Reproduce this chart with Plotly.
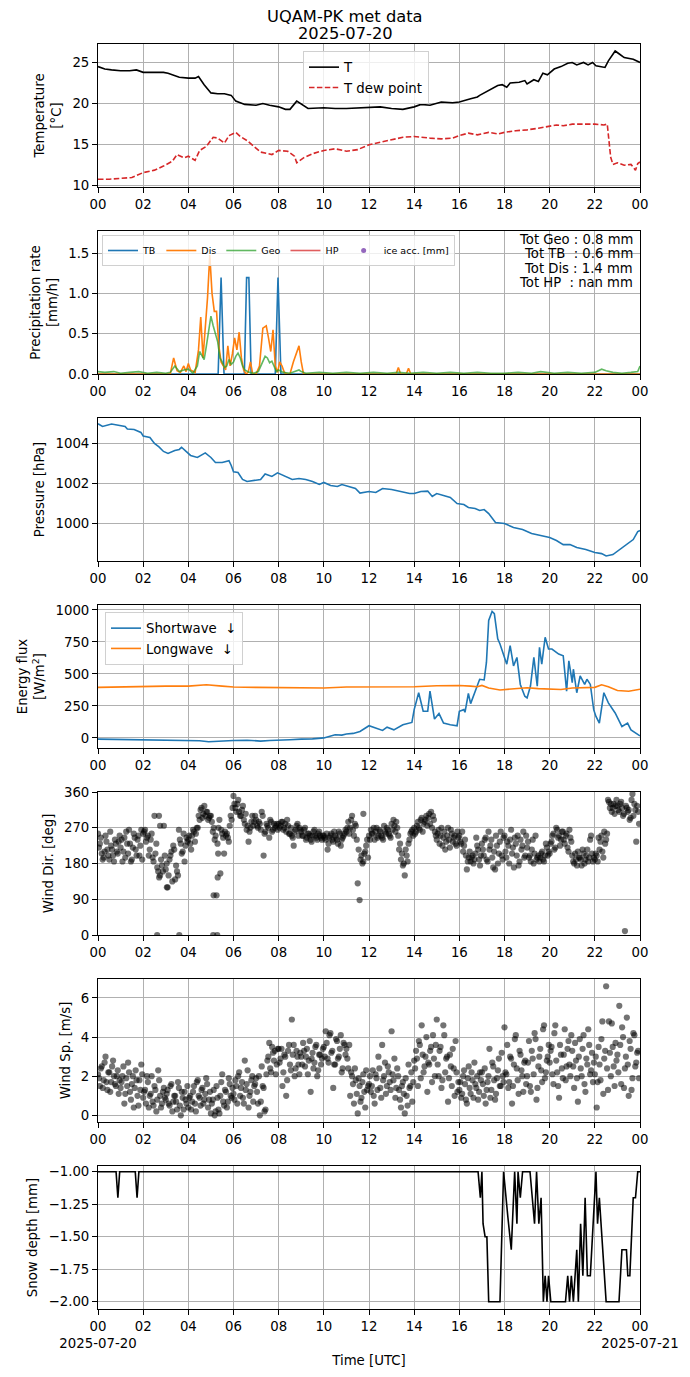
import numpy as np
import pandas as pd
import plotly.graph_objects as go

# ---------------- data (hours after 2025-07-20 00:00 UTC) ----------------
T_h = [0, 0.3, 0.6, 1.0, 1.4, 1.7, 2.0, 2.5, 2.9, 3.1, 3.3, 3.6, 4.0, 4.3, 4.45, 4.7, 5.0, 5.3, 5.6, 5.9,
       6.1, 6.5, 7.0, 7.3, 7.6, 8.0, 8.3, 8.5, 8.8, 9.1, 9.3, 10.0, 10.5, 11.0, 12.0, 12.5, 13.0, 13.5, 14.0, 14.3,
       14.7, 15.2, 15.7, 16.0, 16.5, 16.8, 16.9, 17.3, 17.7, 17.9, 18.1, 18.25, 18.65, 18.9, 19.0, 19.3, 19.5, 19.7, 19.9, 20.2,
       20.5, 20.8, 21.0, 21.2, 21.5, 21.7, 21.9, 22.05, 22.25, 22.45, 22.6, 22.85, 22.9, 23.1, 23.3, 23.7, 24.0]
T_v = [24.5, 24.2, 24.1, 24.0, 24.0, 24.1, 23.8, 23.8, 23.8, 23.7, 23.5, 23.2, 23.1, 23.1, 23.3, 22.3, 21.3, 21.2, 21.2, 21.0,
       20.3, 19.9, 19.8, 20.0, 19.8, 19.6, 19.3, 19.3, 20.3, 19.8, 19.4, 19.5, 19.4, 19.4, 19.5, 19.6, 19.4, 19.3, 19.6, 19.9,
       19.8, 20.2, 20.1, 20.2, 20.6, 20.8, 21.0, 21.6, 22.2, 22.3, 22.0, 22.5, 22.6, 22.8, 22.4, 22.9, 22.7, 23.7, 23.5, 24.2,
       24.5, 24.9, 25.0, 24.7, 25.0, 24.7, 25.0, 24.6, 24.5, 24.4, 25.2, 26.3, 26.4, 26.0, 25.6, 25.4, 25.0]

Td_h = [0, 0.5, 1.0, 1.5, 2.0, 2.5, 2.9, 3.3, 3.5, 3.8, 4.0, 4.3, 4.5, 4.8, 5.1, 5.3, 5.6, 5.8, 6.1, 6.3,
        6.6, 7.0, 7.2, 7.7, 8.0, 8.4, 8.7, 8.8, 9.1, 9.5, 10.0, 10.5, 11.0, 11.5, 12.0, 12.5, 13.0, 13.5, 14.0, 14.3,
        14.7, 15.2, 15.7, 16.0, 16.4, 16.8, 17.3, 17.7, 18.0, 18.5, 19.0, 19.5, 20.0, 20.3, 20.6, 21.0, 21.5, 22.0, 22.4, 22.55,
        22.7, 22.8, 23.0, 23.3, 23.6, 23.8, 23.9, 24.0]
Td_v = [10.8, 10.8, 10.9, 11.0, 11.6, 11.9, 12.4, 13.0, 13.8, 13.4, 13.6, 13.1, 14.3, 14.8, 15.9, 15.8, 15.2, 16.1, 16.5, 16.0,
        15.5, 14.6, 14.1, 13.8, 14.3, 14.2, 13.6, 12.8, 13.4, 13.9, 14.3, 14.5, 14.2, 14.4, 15.0, 15.3, 15.6, 15.9, 16.0, 15.9,
        15.8, 15.7, 15.8, 16.1, 16.4, 16.2, 16.5, 16.3, 16.5, 16.7, 16.8, 17.0, 17.3, 17.4, 17.3, 17.5, 17.5, 17.5, 17.4, 17.5,
        13.5, 12.6, 12.8, 12.5, 12.6, 11.9, 12.7, 12.9]

tb_h = [0, 5.32, 5.45, 5.58, 6.48, 6.58, 6.68, 6.78, 7.85, 7.97, 8.1, 24]
tb_v = [0, 0, 1.2, 0, 0, 1.2, 1.2, 0, 0, 1.2, 0, 0]

dis_h = [0, 3.2, 3.35, 3.5, 3.65, 3.8, 3.9, 4.0, 4.1, 4.3, 4.45, 4.55, 4.65, 4.75, 4.85, 4.95, 5.05, 5.15, 5.25, 5.35,
         5.45, 5.55, 5.65, 5.75, 5.85, 5.95, 6.05, 6.15, 6.25, 6.35, 6.45, 6.55, 6.65, 6.75, 6.85, 7.0, 7.15, 7.3, 7.45, 7.55,
         7.65, 7.75, 7.85, 7.95, 8.05, 8.15, 8.25, 8.35, 8.5, 8.65, 8.75, 8.9, 9.0, 9.1, 13.2, 13.3, 13.4, 13.65, 13.75, 13.85, 24]
dis_v = [0, 0, 0.2, 0.04, 0.02, 0.1, 0.03, 0.13, 0.05, 0.02, 0.3, 0.71, 0.2, 0.55, 0.95, 1.48, 1.0, 0.78, 0.78, 0.35,
         0.15, 0.1, 0.05, 0.35, 0.1, 0.25, 0.45, 0.3, 0.52, 0.2, 0.05, 0.0, 0.02, 0.15, 0.0, 0.0, 0.1, 0.57, 0.6, 0.45,
         0.28, 0.55, 0.1, 0.02, 0.15, 0.1, 0.02, 0.0, 0.0, 0.15, 0.22, 0.35, 0.15, 0.0, 0.0, 0.08, 0.0, 0.0, 0.07, 0.0, 0.0]

geo_h = [0, 0.3, 0.7, 1.0, 1.4, 1.8, 2.2, 2.6, 3.0, 3.2, 3.4, 3.6, 3.8, 4.0, 4.2, 4.4, 4.5, 4.6, 4.7, 4.8,
         4.9, 5.0, 5.1, 5.2, 5.3, 5.4, 5.5, 5.6, 5.7, 5.8, 5.9, 6.0, 6.1, 6.2, 6.3, 6.4, 6.5, 6.7, 6.9, 7.1,
         7.3, 7.4, 7.5, 7.6, 7.7, 7.8, 7.9, 8.0, 8.2, 8.5, 8.8, 8.9, 9.0, 9.2, 9.8, 10.4, 11.0, 11.6, 12.2, 12.8,
         13.3, 13.8, 14.4, 15.0, 15.6, 16.2, 16.8, 17.4, 18.0, 18.6, 19.2, 19.6, 20.2, 20.8, 21.4, 22.0, 22.3, 22.5, 22.8, 23.2,
         23.6, 23.9, 24.0]
geo_v = [0.03, 0.02, 0.03, 0.01, 0.02, 0.03, 0.01, 0.02, 0.01, 0.02, 0.1, 0.03, 0.05, 0.06, 0.01, 0.1, 0.28, 0.22, 0.18, 0.35,
         0.55, 0.72, 0.6, 0.5, 0.4, 0.2, 0.15, 0.08, 0.1, 0.18, 0.12, 0.15, 0.22, 0.26, 0.2, 0.1, 0.05, 0.02, 0.01, 0.03,
         0.15, 0.22, 0.2, 0.14, 0.16, 0.1, 0.03, 0.05, 0.02, 0.01, 0.04, 0.05, 0.03, 0.01, 0.02, 0.01, 0.02, 0.01, 0.02, 0.01,
         0.02, 0.01, 0.02, 0.01, 0.02, 0.01, 0.02, 0.01, 0.01, 0.02, 0.01, 0.03, 0.01, 0.02, 0.01, 0.02, 0.06, 0.04, 0.02, 0.01,
         0.02, 0.03, 0.1]

precip_totals = ["Tot Geo : 0.8 mm", "Tot TB\u00a0\u00a0: 0.6 mm", "Tot Dis : 1.4 mm", "Tot HP\u00a0\u00a0: nan mm"]

P_h = [0, 0.2, 0.6, 1.0, 1.2, 1.3, 1.6, 1.9, 2.0, 2.3, 2.5, 2.7, 2.9, 3.1, 3.4, 3.6, 3.7, 3.9, 4.1, 4.4,
       4.6, 4.75, 5.0, 5.2, 5.5, 5.8, 5.9, 6.0, 6.2, 6.4, 6.6, 7.0, 7.2, 7.4, 7.7, 7.95, 8.3, 8.6, 8.9, 9.2,
       9.5, 9.8, 10.0, 10.3, 10.6, 10.8, 11.1, 11.4, 11.6, 12.0, 12.3, 12.6, 13.0, 13.4, 13.8, 14.0, 14.3, 14.6, 14.8, 15.0,
       15.3, 15.6, 15.9, 16.2, 16.4, 16.7, 16.9, 17.1, 17.3, 17.6, 18.0, 18.4, 18.8, 19.2, 19.6, 20.0, 20.3, 20.6, 20.9, 21.2,
       21.6, 22.0, 22.3, 22.5, 22.8, 23.1, 23.4, 23.7, 23.9, 24.0]
P_v = [1004.98, 1004.85, 1004.97, 1004.9, 1004.85, 1004.72, 1004.7, 1004.55, 1004.37, 1004.3,
       1004.0, 1003.83, 1003.6, 1003.5, 1003.65, 1003.7, 1003.81, 1003.6, 1003.4, 1003.3,
       1003.45, 1003.53, 1003.3, 1003.05, 1003.05, 1003.14, 1002.9, 1002.58, 1002.55, 1002.2,
       1002.1, 1002.15, 1002.2, 1002.48, 1002.35, 1002.53, 1002.35, 1002.2, 1002.25, 1002.2,
       1002.1, 1001.95, 1002.05, 1001.9, 1001.85, 1001.95, 1001.85, 1001.75, 1001.52, 1001.6,
       1001.55, 1001.75, 1001.7, 1001.6, 1001.5, 1001.5, 1001.6, 1001.62, 1001.35, 1001.5,
       1001.4, 1001.3, 1001.0, 1000.95, 1000.8, 1000.75, 1000.65, 1000.7, 1000.5, 1000.05,
       1000.0, 999.8, 999.7, 999.5, 999.4, 999.3, 999.15, 998.95, 998.95, 998.8,
       998.7, 998.55, 998.5, 998.38, 998.45, 998.7, 998.95, 999.2, 999.6, 999.65]

SW_h = [0, 1, 2, 3, 4, 4.5, 4.9, 5.3, 6.0, 6.6, 7.2, 7.6, 8.0, 8.5, 9.0, 9.5, 10.0, 10.3, 10.5, 10.8,
        11.0, 11.3, 11.6, 12.0, 12.3, 12.6, 12.8, 13.1, 13.5, 13.9, 14.0, 14.2, 14.4, 14.6, 14.7, 14.9, 15.1, 15.3, 15.6, 15.9,
        16.0, 16.2, 16.25, 16.4, 16.5, 16.7, 16.9, 17.1, 17.2, 17.3, 17.45, 17.55, 17.7, 17.8, 18.0, 18.1, 18.25, 18.4, 18.55, 18.7,
        18.9, 19.0, 19.15, 19.3, 19.45, 19.55, 19.65, 19.8, 19.95, 20.1, 20.4, 20.6, 20.75, 20.85, 21.0, 21.05, 21.2, 21.35, 21.55, 21.65,
        21.8, 21.95, 22.05, 22.2, 22.4, 22.6, 22.9, 23.2, 23.45, 23.6, 24.0]
SW_v = [-10, -13, -15, -16, -18, -22, -30, -25, -20, -18, -25, -20, -15, -14, -10, -8, 0, 15, 25, 22,
        30, 35, 50, 95, 75, 58, 84, 63, 103, 121, 221, 353, 208, 208, 366, 147, 190, 116, 103, 95,
        208, 221, 200, 347, 268, 366, 458, 453, 590, 918, 989, 971, 774, 734, 616, 576, 721, 563, 629, 418,
        326, 313, 405, 629, 405, 708, 576, 787, 695, 695, 655, 642, 366, 603, 432, 537, 353, 484, 418, 458,
        418, 221, 168, 116, 353, 274, 195, 89, 116, 63, 16]

LW_h = [0, 1, 2, 3, 4, 4.8, 5.5, 6, 7, 8, 9, 10, 11, 12, 13, 14, 15, 16, 16.5, 16.8,
        17.0, 17.3, 17.8, 18.5, 19.0, 19.5, 20, 20.5, 21, 21.5, 22, 22.3, 22.6, 23, 23.5, 24]
LW_v = [395, 400, 403, 405, 405, 415, 405, 398, 395, 392, 392, 390, 398, 398, 400, 400, 408, 410, 405, 400,
        410, 390, 375, 385, 392, 385, 380, 378, 390, 392, 395, 415, 400, 370, 365, 380]

# wind: set A sampled every 5 min from 00:00, set B every 5 min from 00:02:30
wind_dir = [
    255, 230, 205, 195, 250, 215, 190, 225, 200, 240, 210, 235,
    220, 185, 245, 260, 205, 230, 190, 255, 215, 240, 200, 265,
    255, 265, 245, 200, 240, 195, 300, 230, 160, 150, 175, 275,
    165, 120, 190, 210, 225, 140, 160, 265, 230, 210, 185, 245,
    240, 230, 250, 260, 255, 270, 290, 320, 305, 300, 310, 295,
    300, 260, 240, 100, 270, 155, 255, 205, 250, 245, 275, 290,
    350, 320, 330, 310, 300, 325, 280, 265, 235, 270, 300, 285,
    290, 270, 280, 310, 200, 260, 275, 245, 285, 265, 270, 280,
    280, 275, 285, 270, 260, 275, 255, 250, 225, 265, 280, 270,
    260, 250, 270, 245, 255, 240, 250, 265, 245, 255, 250, 240,
    250, 240, 215, 245, 255, 235, 250, 240, 260, 225, 245, 255,
    260, 285, 270, 300, 250, 275, 130, 88, 200, 185, 210, 240,
    250, 265, 255, 240, 270, 250, 260, 245, 275, 255, 265, 250,
    280, 290, 260, 270, 215, 190, 175, 150, 200, 230, 255, 265,
    270, 260, 285, 265, 295, 280, 290, 275, 305, 310, 300, 260,
    240, 265, 250, 225, 260, 235, 270, 220, 255, 245, 230, 260,
    250, 230, 210, 240, 165, 195, 185, 200, 190, 245, 215, 175,
    230, 200, 245, 185, 215, 240, 170, 165, 225, 205, 260, 190,
    250, 195, 225, 240, 205, 170, 230, 250, 185, 215, 260, 200,
    220, 195, 185, 240, 205, 190, 200, 195, 210, 185, 230, 200,
    205, 235, 255, 220, 265, 250, 240, 260, 230, 255, 210, 245,
    200, 180, 190, 210, 195, 175, 205, 190, 215, 195, 250, 185,
    190, 200, 245, 235, 210, 260, 240, 340, 320, 310, 330, 325,
    325, 310, 335, 300, 10, 320, 315, 295, 355, 330, 235, 310]
wind_dir_b = [
    220, 245, 190, 210, 235, 200, 260, 215, 185, 230, 205, 250,
    240, 210, 195, 230, 265, 185, 220, 245, 200, 250, 225, 190,
    260, 235, 250, 215, 255, 185, 205, 170, 145, 190, 160, 200,
    180, 150, 200, 135, 215, 175, 150, 240, 205, 255, 225, 235,
    250, 215, 265, 235, 270, 300, 315, 295, 325, 310, 290, 300,
    285, 270, 250, 230, 290, 265, 245, 260, 255, 235, 300, 320,
    330, 310, 340, 300, 315, 290, 305, 275, 260, 285, 275, 300,
    275, 285, 265, 300, 255, 280, 270, 290, 260, 280, 275, 265,
    270, 285, 265, 280, 290, 255, 270, 245, 260, 275, 250, 265,
    250, 265, 240, 255, 250, 235, 260, 250, 240, 260, 245, 250,
    245, 255, 230, 250, 240, 260, 245, 230, 255, 240, 250, 265,
    270, 255, 290, 265, 280, 240, 215, 190, 180, 205, 225, 195,
    240, 255, 270, 260, 245, 265, 250, 240, 260, 270, 255, 245,
    265, 275, 285, 250, 230, 205, 180, 215, 185, 240, 260, 250,
    255, 275, 270, 290, 260, 285, 300, 295, 280, 270, 290, 250,
    255, 230, 270, 245, 215, 250, 240, 265, 235, 250, 225, 245,
    235, 260, 225, 200, 185, 210, 195, 180, 205, 225, 190, 200,
    215, 240, 190, 260, 225, 195, 210, 250, 180, 235, 200, 245,
    210, 235, 180, 265, 220, 245, 200, 175, 240, 225, 195, 250,
    235, 200, 215, 180, 250, 195, 185, 205, 190, 200, 220, 210,
    230, 250, 215, 270, 245, 225, 260, 240, 250, 220, 265, 235,
    185, 205, 175, 195, 190, 215, 180, 200, 185, 240, 205, 195,
    205, 185, 215, 250, 195, 230, 255, 335, 330, 320, 305, 340,
    315, 330, 320, 305, 325, 310, 290, 340, 300, 315, 325, 280]
wd_extra_h = [2.62, 3.6, 5.1, 5.28, 5.3, 5.32, 5.12, 11.75, 2.7, 2.75, 3.05]
wd_extra_v = [0, 0, 0, 0, 145, 205, 100, 305, 300, 275, 120]

wind_sp = [
    2.1, 1.5, 2.5, 1.8, 3.0, 1.3, 2.2, 1.7, 2.8, 1.6, 2.0, 1.1,
    1.4, 2.0, 0.6, 1.9, 2.7, 1.2, 1.6, 0.4, 2.3, 1.0, 1.8, 2.6,
    0.9, 1.3, 2.0, 0.4, 1.1, 0.7, 1.5, 0.2, 2.3, 1.0, 0.6, 1.4,
    0.8, 1.3, 0.5, 1.6, 0.7, 1.0, 0.3, 1.4, 0.0, 0.9, 1.2, 0.6,
    0.4, 1.0, 0.7, 1.5, 0.2, 1.8, 0.9, 1.3, 0.6, 1.1, 1.6, 0.8,
    0.1, 0.8, 0.0, 1.5, 0.3, 1.0, 2.1, 0.5, 1.2, 0.7, 1.6, 0.9,
    1.1, 1.8, 0.6, 2.2, 1.4, 0.9, 2.8, 1.6, 0.4, 1.2, 2.0, 1.5,
    1.9, 0.6, 0.0, 2.5, 1.4, 0.3, 2.8, 3.7, 2.2, 3.2, 3.3, 2.6,
    3.4, 2.9, 1.5, 3.1, 1.0, 3.3, 2.6, 4.9, 3.6, 2.4, 3.0, 2.1,
    3.0, 3.7, 2.5, 3.4, 2.8, 1.2, 3.2, 2.7, 3.6, 2.3, 3.1, 2.9,
    3.5, 4.3, 2.9, 4.1, 3.2, 1.4, 2.6, 3.8, 3.0, 4.1, 2.4, 3.6,
    3.4, 2.4, 1.0, 2.0, 0.6, 1.8, 0.1, 1.5, 0.9, 2.1, 0.4, 1.3,
    1.6, 1.2, 2.3, 0.6, 1.9, 3.0, 1.4, 3.6, 2.0, 1.1, 2.5, 1.7,
    4.3, 1.8, 0.9, 2.4, 1.3, 0.4, 1.7, 0.1, 1.0, 2.6, 1.5, 0.7,
    2.8, 3.3, 1.5, 3.6, 4.6, 2.2, 3.0, 1.2, 2.6, 3.5, 4.1, 2.0,
    4.9, 2.0, 3.5, 1.8, 4.1, 2.9, 0.7, 3.1, 1.5, 2.4, 3.8, 1.2,
    1.3, 0.9, 2.0, 1.6, 0.6, 2.5, 1.1, 1.8, 2.7, 1.4, 0.8, 2.2,
    2.2, 1.0, 0.6, 1.7, 3.4, 1.3, 2.5, 0.8, 1.9, 2.9, 1.5, 2.0,
    4.5, 2.1, 1.4, 3.0, 0.6, 2.6, 4.1, 1.8, 3.3, 2.3, 1.2, 2.8,
    2.0, 3.8, 1.2, 2.9, 4.2, 0.8, 2.5, 3.4, 1.7, 4.6, 2.2, 3.0,
    2.7, 3.5, 1.6, 4.6, 2.2, 0.9, 3.1, 1.9, 4.4, 2.5, 3.8, 2.0,
    3.3, 1.4, 2.8, 0.7, 3.9, 2.0, 4.1, 1.2, 2.6, 3.6, 2.3, 1.7,
    2.1, 0.4, 3.5, 1.8, 4.8, 2.9, 6.6, 1.3, 3.2, 4.7, 2.5, 3.7,
    3.1, 5.6, 1.6, 4.0, 2.4, 5.0, 1.0, 3.4, 1.9, 4.1, 2.7, 3.3]
wind_sp_b = [
    1.9, 2.4, 1.4, 2.7, 1.7, 2.2, 1.2, 2.5, 2.0, 1.5, 2.3, 1.8,
    1.7, 2.5, 1.1, 1.5, 2.2, 0.8, 2.0, 1.4, 1.8, 0.5, 1.3, 2.1,
    1.2, 0.6, 1.7, 1.0, 2.0, 0.5, 1.3, 0.8, 1.8, 0.4, 1.2, 0.9,
    1.1, 0.6, 1.5, 0.2, 1.0, 0.7, 1.7, 0.5, 1.2, 0.3, 0.8, 1.5,
    0.9, 0.3, 1.2, 0.6, 1.7, 1.0, 0.5, 1.4, 0.8, 1.9, 0.4, 1.2,
    0.6, 1.3, 0.2, 0.9, 0.1, 1.7, 0.7, 1.3, 0.4, 1.9, 1.0, 1.4,
    0.8, 1.5, 2.0, 1.0, 1.7, 0.6, 1.3, 2.3, 1.0, 1.8, 0.7, 1.6,
    1.2, 2.0, 0.7, 1.5, 0.2, 2.1, 3.0, 2.4, 3.5, 2.8, 2.1, 3.4,
    2.7, 3.4, 2.2, 3.0, 1.8, 3.6, 2.3, 3.1, 2.0, 3.3, 2.6, 3.2,
    2.6, 3.3, 3.0, 2.1, 3.8, 2.9, 2.4, 3.5, 2.0, 3.1, 2.6, 3.4,
    3.0, 3.7, 2.7, 4.2, 3.3, 2.6, 3.9, 2.9, 3.4, 2.2, 3.7, 3.1,
    2.9, 3.6, 2.2, 1.6, 2.4, 1.1, 1.9, 0.7, 1.7, 1.2, 2.3, 1.5,
    2.0, 1.5, 1.0, 2.1, 1.3, 2.4, 0.9, 1.8, 2.7, 1.5, 2.2, 1.3,
    2.1, 2.9, 1.4, 2.0, 0.8, 1.5, 1.1, 1.9, 0.5, 1.4, 2.2, 1.7,
    2.4, 2.9, 3.8, 1.9, 3.1, 2.5, 4.0, 2.7, 3.3, 1.7, 2.9, 3.6,
    2.6, 3.3, 1.4, 4.6, 2.2, 3.0, 1.9, 2.5, 3.4, 1.0, 2.2, 1.7,
    1.7, 1.1, 2.3, 0.8, 1.9, 1.4, 2.2, 0.9, 1.6, 2.0, 1.2, 1.8,
    1.6, 2.4, 1.3, 2.0, 0.9, 2.7, 1.8, 1.1, 2.3, 1.5, 3.2, 1.7,
    2.2, 3.6, 1.7, 2.9, 1.5, 3.9, 2.4, 1.1, 3.1, 2.0, 2.7, 1.6,
    2.7, 1.5, 3.3, 2.1, 3.9, 1.4, 3.0, 2.3, 4.4, 1.9, 2.8, 3.6,
    3.3, 2.1, 4.2, 2.8, 1.5, 3.6, 2.4, 3.1, 1.8, 3.4, 2.6, 4.1,
    2.5, 3.7, 1.9, 3.0, 2.4, 3.4, 1.6, 2.9, 4.4, 2.1, 3.2, 2.7,
    3.0, 1.7, 2.6, 3.9, 1.1, 3.3, 2.4, 4.8, 2.0, 3.5, 1.5, 2.8,
    2.2, 3.6, 4.5, 1.4, 3.0, 2.6, 3.8, 1.3, 4.2, 2.5, 3.2, 1.9]

S_h = [0, 0.8, 0.88, 0.96, 1.65, 1.73, 1.81, 16.83, 16.93, 17.0, 17.05, 17.14, 17.22, 17.3, 17.8, 17.96, 18.15, 18.3, 18.45, 18.55,
       18.6, 18.7, 18.8, 19.13, 19.23, 19.33, 19.42, 19.52, 19.62, 19.72, 19.8, 19.88, 19.95, 20.05, 20.7, 20.8, 20.88, 20.96, 21.05, 21.2,
       21.27, 21.37, 21.47, 21.57, 21.67, 21.8, 22.05, 22.12, 22.2, 22.35, 22.5, 23.07, 23.2, 23.4, 23.46, 23.55, 23.7, 23.8, 23.9, 24.0]
S_v = [-1.0, -1.0, -1.2, -1.0, -1.0, -1.2, -1.0, -1.0, -1.2, -1.0, -1.4, -1.5, -1.5, -2.0, -2.0, -1.0, -1.35, -1.6, -1.0, -1.4,
       -1.0, -1.2, -1.0, -1.0, -1.2, -1.4, -1.0, -1.4, -1.2, -2.0, -1.8, -2.0, -1.8, -2.0, -2.0, -1.8, -2.0, -1.8, -2.0, -1.6,
       -2.0, -1.4, -1.8, -1.2, -1.8, -1.8, -1.0, -1.4, -1.2, -1.6, -2.0, -2.0, -1.6, -1.6, -1.8, -1.8, -1.2, -1.2, -1.0, -1.0]

# ---------------- helpers ----------------
base = pd.Timestamp("2025-07-20 00:00")
end = base + pd.Timedelta(hours=24)


def tt(hours):
    return [base + pd.Timedelta(hours=float(h)) for h in hours]


wind_t = list(pd.date_range(base, periods=len(wind_dir), freq="5min"))
wind_t_b = list(pd.date_range(base + pd.Timedelta(seconds=150), periods=len(wind_dir_b), freq="5min"))

OFF = 8                      # page body margin of the browser
W, H = 690 - OFF, 1377 - OFF
XL, XR = 98, 640             # axes edges in reference pixels
tops = [44, 231, 418, 605, 792, 979, 1166]
PH = 143
FONT = "DejaVu Sans"
FS = 13.3


def px_x(px):
    return (px - XL) / (XR - XL)


def px_y(py):
    return 1 - (py - OFF) / H


fig = go.Figure()

# Panel 1: temperature
fig.add_trace(go.Scatter(x=tt(T_h), y=T_v, mode="lines", name="T",
                         line=dict(color="black", width=1.6), xaxis="x", yaxis="y", legend="legend"))
fig.add_trace(go.Scatter(x=tt(Td_h), y=Td_v, mode="lines", name="T dew point",
                         line=dict(color="#d62728", width=1.6, dash="5.5px,2.4px"),
                         xaxis="x", yaxis="y", legend="legend"))

# Panel 2: precipitation
fig.add_trace(go.Scatter(x=tt(tb_h), y=tb_v, mode="lines", name="TB",
                         line=dict(color="#1f77b4", width=1.6), xaxis="x2", yaxis="y2", legend="legend2"))
fig.add_trace(go.Scatter(x=tt(dis_h), y=dis_v, mode="lines", name="Dis",
                         line=dict(color="#ff7f0e", width=1.6), xaxis="x2", yaxis="y2", legend="legend2"))
fig.add_trace(go.Scatter(x=tt(geo_h), y=geo_v, mode="lines", name="Geo",
                         line=dict(color="rgba(44,160,44,0.75)", width=1.6), xaxis="x2", yaxis="y2", legend="legend2"))
fig.add_trace(go.Scatter(x=[base], y=[None], mode="lines", name="HP",
                         line=dict(color="rgba(214,39,40,0.75)", width=1.6), xaxis="x2", yaxis="y2", legend="legend2"))
fig.add_trace(go.Scatter(x=[base], y=[None], mode="markers", name="ice acc. [mm]",
                         marker=dict(color="#9467bd", size=5), xaxis="x2", yaxis="y2", legend="legend2"))

# Panel 3: pressure
fig.add_trace(go.Scatter(x=tt(P_h), y=P_v, mode="lines", showlegend=False,
                         line=dict(color="#1f77b4", width=1.6), xaxis="x3", yaxis="y3"))

# Panel 4: radiation
fig.add_trace(go.Scatter(x=tt(SW_h), y=SW_v, mode="lines", name="Shortwave \u00a0\u2193",
                         line=dict(color="#1f77b4", width=1.6), xaxis="x4", yaxis="y4", legend="legend3"))
fig.add_trace(go.Scatter(x=tt(LW_h), y=LW_v, mode="lines", name="Longwave \u00a0\u2193",
                         line=dict(color="#ff7f0e", width=1.6), xaxis="x4", yaxis="y4", legend="legend3"))

# Panel 5: wind direction
dot = dict(color="black", size=6.2, opacity=0.55, line=dict(width=0))
fig.add_trace(go.Scatter(x=wind_t + wind_t_b, y=wind_dir + wind_dir_b, mode="markers", marker=dot,
                         showlegend=False, xaxis="x5", yaxis="y5"))
fig.add_trace(go.Scatter(x=tt(wd_extra_h), y=wd_extra_v, mode="markers", marker=dot, showlegend=False,
                         xaxis="x5", yaxis="y5"))

# Panel 6: wind speed
fig.add_trace(go.Scatter(x=wind_t + wind_t_b, y=wind_sp + wind_sp_b, mode="markers", marker=dot,
                         showlegend=False, xaxis="x6", yaxis="y6"))

# Panel 7: snow depth
fig.add_trace(go.Scatter(x=tt(S_h), y=S_v, mode="lines", showlegend=False,
                         line=dict(color="black", width=1.6), xaxis="x7", yaxis="y7"))

# ---------------- axes ----------------
common = dict(showline=True, mirror=True, linecolor="black", linewidth=1,
              ticks="outside", ticklen=5, tickwidth=1, tickcolor="black",
              showgrid=True, gridcolor="#b0b0b0", gridwidth=0.8, zeroline=False,
              tickfont=dict(family=FONT, size=FS, color="black"), automargin=False)

ytitles = ["Temperature<br>[°C]", "Precipitation rate<br>[mm/h]", "Pressure [hPa]",
           "Energy flux<br>[W/m<sup>2</sup>]", "Wind Dir. [deg]", "Wind Sp. [m/s]", "Snow depth [mm]"]
yranges = [[9.85, 27.25], [0, 1.78], [998.13, 1005.27], [-79, 1039], [0, 360], [-0.34, 6.97], [-2.056, -0.956]]
yticks = [[10, 15, 20, 25], [0, 0.5, 1.0, 1.5], [1000, 1002, 1004], [0, 250, 500, 750, 1000],
          [0, 90, 180, 270, 360], [0, 2, 4, 6], [-2.0, -1.75, -1.5, -1.25, -1.0]]
yfmt = ["", ".1f", "", "", "", "", ".2f"]

tickvals = list(pd.date_range(base, end, freq="2h"))
ticktext = [t.strftime("%H") for t in tickvals]
ticktext[0] = "00<br>2025-07-20"
ticktext[-1] = "00<br>2025-07-21"

layout_axes = {}
for i in range(7):
    k = "" if i == 0 else str(i + 1)
    top = tops[i]
    xa = dict(common, domain=[0, 1], anchor="y" + k, range=[base, end], type="date", tickangle=0)
    if i < 6:
        xa.update(tickformat="%H", dtick=2 * 3600 * 1000, tick0=base)
    else:
        xa.update(tickmode="array", tickvals=tickvals, ticktext=ticktext,
                  title=dict(text="Time [UTC]", font=dict(family=FONT, size=FS, color="black"), standoff=5))
    ya = dict(common, domain=[px_y(top + PH), px_y(top)], anchor="x" + k, range=yranges[i],
              tickmode="array", tickvals=yticks[i],
              title=dict(text=ytitles[i], font=dict(family=FONT, size=FS, color="black"), standoff=7))
    if yfmt[i]:
        ya["tickformat"] = yfmt[i]
    layout_axes["xaxis" + k] = xa
    layout_axes["yaxis" + k] = ya

fig.update_layout(**layout_axes)

# ---------------- text ----------------
annotations = [
    dict(text="UQAM-PK met data", x=px_x(345), xref="paper", y=px_y(16), yref="paper", showarrow=False,
         font=dict(family=FONT, size=16.3, color="black"), xanchor="center", yanchor="middle"),
    dict(text="2025-07-20", x=px_x(345), xref="paper", y=px_y(33), yref="paper", showarrow=False,
         font=dict(family=FONT, size=16.3, color="black"), xanchor="center", yanchor="middle"),
]
for j, line in enumerate(precip_totals):
    annotations.append(dict(text=line, x=px_x(635), xref="paper", y=px_y(240 + 14 * j), yref="paper",
                            showarrow=False, xanchor="right", yanchor="middle", align="right",
                            font=dict(family=FONT, size=13.2, color="black")))

legend_style = dict(bgcolor="rgba(255,255,255,0.8)", bordercolor="#d0d0d0", borderwidth=1,
                    xanchor="left", yanchor="top", xref="paper", yref="paper")

fig.update_layout(
    width=W, height=H,
    margin=dict(l=XL - OFF, r=W - (XR - OFF), t=0, b=0),
    paper_bgcolor="white", plot_bgcolor="white",
    font=dict(family=FONT, size=FS, color="black"),
    annotations=annotations,
    legend=dict(legend_style, x=px_x(303), y=px_y(51), font=dict(family=FONT, size=FS, color="black")),
    legend2=dict(legend_style, x=px_x(102), y=px_y(235), orientation="h",
                 font=dict(family=FONT, size=9.5, color="black"), tracegroupgap=0),
    legend3=dict(legend_style, x=px_x(105), y=px_y(612), font=dict(family=FONT, size=FS, color="black")),
)

fig.write_html("out.html")
